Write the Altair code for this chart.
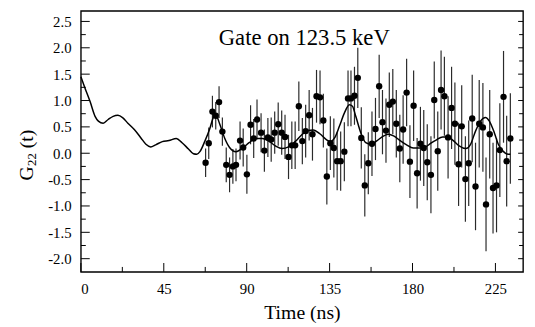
import altair as alt
import pandas as pd

# ---- data ----
times = [67.7, 69.4, 71.4, 73.2, 75.0, 76.8, 78.9, 80.7, 82.5, 84.2,
         86.4, 88.1, 90.1, 92.1, 93.8, 95.6, 97.8, 99.6, 101.5, 103.3,
         105.2, 107.1, 109.0, 110.8, 112.7, 114.5, 116.3, 118.3, 120.2, 122.0,
         123.9, 125.7, 127.9, 129.8, 131.6, 133.5, 135.4, 137.3, 139.1, 141.0,
         143.0, 145.0, 146.6, 148.5, 150.3, 152.2, 154.1, 156.0, 158.0, 159.9,
         161.9, 163.7, 165.6, 167.4, 169.3, 171.2, 173.1, 174.9, 176.8, 178.6,
         180.6, 182.5, 184.3, 186.1, 188.0, 190.0, 191.8, 193.7, 195.5, 197.3,
         199.3, 201.2, 203.0, 205.0, 206.7, 208.7, 210.5, 212.4, 214.2, 216.2,
         218.2, 219.9, 221.9, 223.7, 225.6, 227.4, 229.4, 231.1, 233.1]
g22 = [-0.18, 0.19, 0.79, 0.71, 0.97, 0.41, -0.22, -0.41, -0.25, -0.22,
       0.24, 0.11, -0.40, 0.54, 0.28, 0.64, 0.39, 0.05, 0.30, 0.26,
       0.39, 0.55, 0.39, 0.31, -0.07, 0.15, 0.15, 0.89, 0.23, 0.42,
       0.72, 0.36, 1.08, 1.06, 0.62, -0.44, 0.19, 0.10, -0.15, -0.15,
       0.03, 1.04, 1.04, 1.09, 1.43, 0.29, -0.61, -0.19, 0.18, 0.46,
       1.27, 0.59, 0.43, 0.92, 0.98, 0.56, 0.09, 0.45, 1.15, -0.16,
       0.90, -0.38, 0.18, 0.10, -0.17, -0.41, 1.01, 0.04, 1.20, 1.08,
       0.30, 0.86, 0.56, -0.21, 0.51, -0.49, -0.19, 0.66, -0.63, 0.56,
       0.49, -0.97, 0.36, -0.66, -0.61, 0.06, 1.07, -0.15, 0.28]
err = [0.27, 0.30, 0.30, 0.26, 0.30, 0.27, 0.33, 0.33, 0.33, 0.31,
       0.36, 0.36, 0.37, 0.37, 0.37, 0.38, 0.37, 0.40, 0.37, 0.42,
       0.40, 0.41, 0.42, 0.42, 0.42, 0.45, 0.45, 0.47, 0.44, 0.50,
       0.48, 0.50, 0.50, 0.51, 0.51, 0.53, 0.51, 0.56, 0.55, 0.56,
       0.56, 0.53, 0.53, 0.55, 0.57, 0.58, 0.59, 0.59, 0.61, 0.59,
       0.60, 0.61, 0.61, 0.61, 0.62, 0.64, 0.64, 0.65, 0.64, 0.69,
       0.67, 0.67, 0.70, 0.72, 0.72, 0.73, 0.73, 0.75, 0.75, 0.75,
       0.78, 0.78, 0.78, 0.79, 0.78, 0.81, 0.81, 0.83, 0.83, 0.83,
       0.84, 0.89, 0.84, 0.86, 0.89, 0.89, 0.87, 0.86, 0.86]

fit_t = [0, 2.3, 5, 7.7, 9.5, 12.1, 14.8, 17.5, 20.1, 22.8, 25.5, 29, 32.6, 35.3,
         37.9, 40.6, 44.2, 47.8, 51.8, 54.9, 58.4, 61.1, 62.9, 64.6, 67.3, 70,
         71.8, 73.2, 75.3, 78, 80.7, 84.2, 87.8, 91.3, 94.9, 98.5, 102, 105.6,
         109.2, 112.7, 116.3, 119.9, 123.4, 126.1, 129.7, 133.2, 135.5, 137.7,
         140.3, 143, 145.7, 147.4, 149.2, 151.9, 154.6, 157.3, 160.8, 164.4,
         167, 169.7, 173.3, 176.8, 180.4, 184, 187.5, 190, 192.8, 196.4, 199.1,
         201.8, 205.3, 208.9, 211.5, 214.2, 216.9, 219.6, 221.7, 224.4, 226.7,
         228.8, 232, 233.1]
fit_y = [1.45, 1.23, 0.98, 0.70, 0.61, 0.57, 0.64, 0.70, 0.72, 0.67, 0.57, 0.45,
         0.29, 0.17, 0.12, 0.16, 0.22, 0.24, 0.28, 0.20, 0.08, -0.01, -0.02, 0.03,
         0.23, 0.47, 0.67, 0.73, 0.56, 0.29, 0.11, 0.03, 0.10, 0.20, 0.28, 0.28,
         0.23, 0.14, 0.09, 0.12, 0.22, 0.35, 0.43, 0.44, 0.37, 0.26, 0.22, 0.29,
         0.51, 0.76, 0.92, 0.89, 0.70, 0.39, 0.20, 0.17, 0.24, 0.33, 0.36, 0.33,
         0.24, 0.16, 0.10, 0.10, 0.13, 0.19, 0.25, 0.31, 0.31, 0.25, 0.14, 0.09,
         0.17, 0.42, 0.61, 0.68, 0.61, 0.39, 0.16, 0.05, -0.02, -0.02]

x_major = [0, 45, 90, 135, 180, 225]
x_minor = [22.5, 67.5, 112.5, 157.5, 202.5]
y_major = [-2.0, -1.5, -1.0, -0.5, 0.0, 0.5, 1.0, 1.5, 2.0, 2.5]
y_minor = [-1.75, -1.25, -0.75, -0.25, 0.25, 0.75, 1.25, 1.75, 2.25]

FONT = "Liberation Serif"
W, H = 449, 265
xs = alt.Scale(domain=[0, 240], nice=False, zero=False)
ys = alt.Scale(domain=[-2.25, 2.70], nice=False, zero=False)

xaxis = alt.Axis(values=x_major, format="d", ticks=False, tickSize=0, domain=False,
                 grid=False, labelFont=FONT, labelFontSize=15, labelColor="black",
                 labelPadding=10, title="Time (ns)", titleFont=FONT, titleFontSize=20,
                 titleFontWeight="normal", titleColor="black", titlePadding=6)
yaxis = alt.Axis(values=y_major, ticks=False, tickSize=0, domain=False, grid=False,
                 labelExpr="(datum.value < 0 ? '-' : '') + format(abs(datum.value), '.1f')",
                 labelFont=FONT, labelFontSize=15, labelColor="black", labelPadding=10,
                 title=None)

pts = pd.DataFrame({"t": times, "g": g22,
                    "lo": [g - e for g, e in zip(g22, err)],
                    "hi": [g + e for g, e in zip(g22, err)]})
fit = pd.DataFrame({"t": fit_t, "g": fit_y})

X = alt.X("t:Q", scale=xs, axis=xaxis)
bars = alt.Chart(pts).mark_rule(color="#2a2a2a", strokeWidth=1.2).encode(
    x=X, y=alt.Y("lo:Q", scale=ys, axis=yaxis), y2="hi:Q")
dots = alt.Chart(pts).mark_circle(size=42, color="black", opacity=1).encode(
    x=X, y=alt.Y("g:Q", scale=ys, axis=yaxis))
curve = alt.Chart(fit).mark_line(color="black", strokeWidth=1.5, interpolate="monotone").encode(
    x=X, y=alt.Y("g:Q", scale=ys, axis=yaxis))

ymaj = pd.DataFrame({"v": y_major})
ymin = pd.DataFrame({"v": y_minor})
xmaj = pd.DataFrame({"v": x_major})
xmin = pd.DataFrame({"v": x_minor})
YV = alt.Y("v:Q", scale=ys, axis=yaxis)
XV = alt.X("v:Q", scale=xs, axis=xaxis)
tk = dict(color="black", strokeWidth=1)
ticks = [
    alt.Chart(ymaj).mark_rule(**tk).encode(y=YV, x=alt.value(0), x2=alt.value(9)),
    alt.Chart(ymin).mark_rule(**tk).encode(y=YV, x=alt.value(0), x2=alt.value(5)),
    alt.Chart(ymaj).mark_rule(**tk).encode(y=YV, x=alt.value(W), x2=alt.value(W - 5)),
    alt.Chart(ymin).mark_rule(**tk).encode(y=YV, x=alt.value(W), x2=alt.value(W - 4)),
    alt.Chart(xmaj).mark_rule(**tk).encode(x=XV, y=alt.value(H), y2=alt.value(H - 9)),
    alt.Chart(xmin).mark_rule(**tk).encode(x=XV, y=alt.value(H), y2=alt.value(H - 5)),
]

one = pd.DataFrame({"k": [0]})
ytitle = [
    alt.Chart(one).mark_text(text="G", font=FONT, fontSize=20, angle=270, align="center",
                             baseline="alphabetic", color="black").encode(
        x=alt.value(-49), y=alt.value(165)),
    alt.Chart(one).mark_text(text="22", font=FONT, fontSize=13, angle=270, align="center",
                             baseline="alphabetic", color="black").encode(
        x=alt.value(-46), y=alt.value(151)),
    alt.Chart(one).mark_text(text="(t)", font=FONT, fontSize=20, angle=270, align="center",
                             baseline="alphabetic", color="black").encode(
        x=alt.value(-49), y=alt.value(130)),
]
note = alt.Chart(one).mark_text(text="Gate on 123.5 keV", font=FONT, fontSize=23,
                                align="left", baseline="alphabetic", color="black").encode(
    x=alt.value(140), y=alt.value(35))

chart = alt.layer(bars, curve, dots, *ticks, *ytitle, note).properties(
    width=W, height=H,
    background="white",
    autosize=alt.AutoSizeParams(type="none"),
    padding={"left": 74, "top": 0.5, "right": 4, "bottom": 50},
).configure_view(stroke="black", strokeWidth=1.4, strokeOpacity=1)

chart.save("out.html", embed_options={"renderer": "svg", "actions": False})
